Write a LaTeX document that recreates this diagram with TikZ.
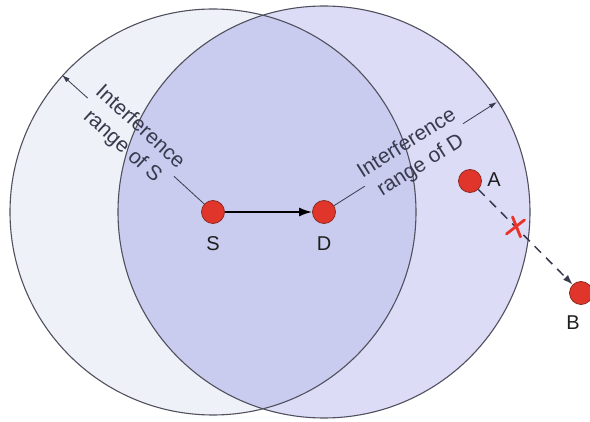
\documentclass[tikz,border=0pt]{standalone}
\usepackage{fontspec}
\setmainfont{Liberation Sans}
\usetikzlibrary{arrows.meta,calc}
\definecolor{leftfill}{HTML}{EEF1F7}
\definecolor{rightfill}{HTML}{DCDCF6}
\definecolor{overlapfill}{HTML}{C9CCEF}
\definecolor{circleedge}{HTML}{50505E}
\definecolor{nodered}{HTML}{E0352A}
\definecolor{nodeedge}{HTML}{8E2A22}
\definecolor{rangecol}{HTML}{3A3A4E}
\definecolor{labelcol}{HTML}{1E1E1E}
\definecolor{xred}{HTML}{E8322A}
\begin{document}
\begin{tikzpicture}[x=1pt,y=-1pt,
  dot/.style={circle,fill=nodered,draw=nodeedge,line width=0.8pt,minimum size=23pt,inner sep=0pt},
  lbl/.style={font=\fontsize{20}{24}\selectfont,text=labelcol,inner sep=0pt},
  rangetxt/.style={font=\fontsize{21}{26}\selectfont,text=rangecol,align=center,inner sep=2pt},
  rangeline/.style={draw=rangecol,line width=0.8pt},
  rangearrow/.style={rangeline,-{Latex[length=8pt,width=5pt]}},
  ring/.style={draw=circleedge,line width=1.1pt}]
\useasboundingbox (0,0) rectangle (590,422);
% range discs
\fill[leftfill] (213,212) circle[radius=203pt];
\fill[rightfill] (324,212) circle[radius=206pt];
\begin{scope}
  \clip (213,212) circle[radius=203pt];
  \fill[overlapfill] (324,212) circle[radius=206pt];
\end{scope}
\draw[ring] (213,212) circle[radius=203pt];
\draw[ring] (324,212) circle[radius=206pt];
% nodes
\node[dot] (s) at (213,212) {};
\node[dot] (d) at (324,212) {};
\node[dot] (a) at (470,181) {};
\node[dot] (b) at (581,293) {};
\node[lbl] (ls) at (213,244) {S};
\node[lbl] (ld) at (324,244) {D};
\node[lbl] (la) at (494,180) {A};
\node[lbl] (lb) at (573,323) {B};
% range labels
\node[rangetxt,rotate=-42.2] (ts) at (131,137) {Interference\\range of S};
\node[rangetxt,rotate=32.2] (td) at (414,155) {Interference\\range of D};
\coordinate (tipS) at (62,75);
\coordinate (tipD) at (497,102);
\draw[rangeline] (s) -- (ts);
\draw[rangearrow] (ts) -- (tipS);
\draw[rangeline] (d) -- (td);
\draw[rangearrow] (td) -- (tipD);
% S -> D
\draw[line width=1.8pt,-{Latex[length=13pt,width=9pt]}] (s) -- (d);
% A -> B (blocked)
\draw[draw=rangecol,line width=1.5pt,dash pattern=on 9pt off 7pt,-{Latex[length=10pt,width=7pt]}] (a) -- (b);
\coordinate (x) at ($(a)!0.41!(b)$);
\draw[xred,line width=2.8pt,line cap=round] ($(x)+(-9,7)$) -- ($(x)+(9,-7)$);
\draw[xred,line width=2.8pt,line cap=round] ($(x)+(-3,-10)$) -- ($(x)+(5,10)$);
\end{tikzpicture}
\end{document}
